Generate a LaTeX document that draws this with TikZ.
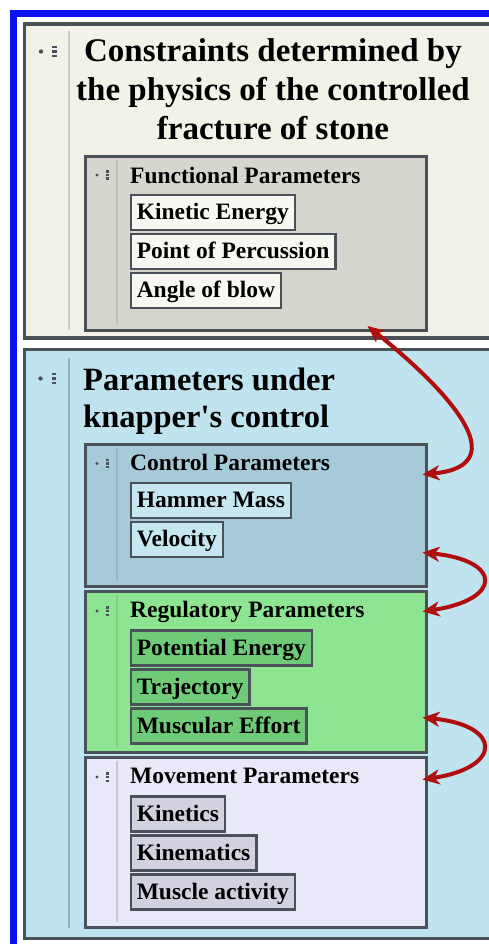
\documentclass[tikz,border=0pt]{standalone}
\usepackage{fontspec}
\setmainfont{Liberation Serif}
\usetikzlibrary{positioning,arrows.meta}

\definecolor{frameblue}{HTML}{0A12F2}
\definecolor{edgegray}{HTML}{4B5158}
\definecolor{paper}{HTML}{F2F2E8}
\definecolor{funcgray}{HTML}{D6D6CF}
\definecolor{itempaper}{HTML}{F8F8F2}
\definecolor{skyblue}{HTML}{BFE3EF}
\definecolor{ctrlblue}{HTML}{A7CAD9}
\definecolor{ctrlitem}{HTML}{C6E6F2}
\definecolor{regulgreen}{HTML}{8DE592}
\definecolor{regulitem}{HTML}{6FCB78}
\definecolor{movelilac}{HTML}{E8E8F8}
\definecolor{moveitem}{HTML}{D1D1DF}
\definecolor{arrowred}{HTML}{B00D0D}

% outline handle: dot + three bars
\newcommand{\outlinemark}[3]{%
  \begin{scope}[shift={(#1,#2)}, scale=#3]
    \fill[edgegray] (0,0) circle (2.2);
    \foreach \k in {-4.5,0,4.5}
      \fill[edgegray] (11,\k-1.3) rectangle ++(4.5,2.6);
  \end{scope}}

\begin{document}
\begin{tikzpicture}[x=1pt, y=-1pt,
    panel/.style={draw=edgegray, line width=3.5pt, anchor=north west, inner sep=0pt, minimum width=480pt},
    group/.style={draw=edgegray, line width=3pt, anchor=north west, inner sep=0pt, minimum width=340.5pt},
    head/.style={anchor=base west, inner sep=0pt, font=\fontsize{23.5}{28}\selectfont\bfseries},
    item/.style={draw=edgegray, line width=2.5pt, anchor=north west, inner xsep=6pt, inner ysep=0pt,
      minimum height=35pt, text height=16pt, text depth=1pt, font=\fontsize{23.5}{28}\selectfont\bfseries},
    guide/.style={line width=1.5pt},
    link/.style={arrowred, line width=4pt, {Stealth[length=17pt,width=15pt,inset=5pt]}-{Stealth[length=17pt,width=15pt,inset=5pt]}}
  ]
  \useasboundingbox (0,0) rectangle (489,944);
  \fill[white] (0,0) rectangle (489,944);

  % blue frame (left and top)
  \fill[frameblue] (10,10) rectangle (17,944);
  \fill[frameblue] (10,10) rectangle (489,17);

  % physics panel
  \node[panel, fill=paper, minimum height=313.5pt] (phys) at (22.5,22.5) {};
  \draw[guide, black!20] (69,31) -- (69,330);
  \outlinemark{41}{51.5}{1}
  \node[align=center, anchor=base, inner sep=0pt, font=\fontsize{33}{38.75}\selectfont\bfseries] (physttl) at (273,139.5)
    {Constraints determined by\\the physics of the controlled\\fracture of stone};

  % functional parameters
  \node[group, fill=funcgray, minimum height=174pt] (func) at (84,155) {};
  \draw[guide, black!25] ([xshift=33pt,yshift=-5pt]func.north west) -- ([xshift=33pt,yshift=7pt]func.south west);
  \outlinemark{97}{175}{0.78}
  \node[head] (funchd) at ([xshift=46pt,yshift=-28pt]func.north west) {Functional Parameters};
  \node[item, fill=itempaper] (kinen) at ([xshift=45.5pt,yshift=-38.5pt]func.north west) {Kinetic Energy};
  \node[item, fill=itempaper, below right=1.5pt and 0pt of kinen.south west] (percus) {Point of Percussion};
  \node[item, fill=itempaper, below right=1.5pt and 0pt of percus.south west] (angle) {Angle of blow};

  % knapper panel
  \node[panel, fill=skyblue, minimum height=589pt] (knap) at (22.5,347.5) {};
  \draw[guide, black!18!skyblue!80!gray] (69,358) -- (69,928);
  \outlinemark{40.5}{378.5}{1}
  \node[align=left, anchor=base west, inner sep=0pt, font=\fontsize{32.5}{37.5}\selectfont\bfseries] (knapttl) at (83,427.5)
    {Parameters under\\knapper\textquotesingle s control};

  % control parameters
  \node[group, fill=ctrlblue, minimum height=142pt] (ctrl) at (84,442.5) {};
  \draw[guide, ctrlblue!70!gray] ([xshift=33pt,yshift=-5pt]ctrl.north west) -- ([xshift=33pt,yshift=7pt]ctrl.south west);
  \outlinemark{97}{463.5}{0.78}
  \node[head] (ctrlhd) at ([xshift=46pt,yshift=-27.5pt]ctrl.north west) {Control Parameters};
  \node[item, fill=ctrlitem] (hammer) at ([xshift=45.5pt,yshift=-39pt]ctrl.north west) {Hammer Mass};
  \node[item, fill=ctrlitem, below right=1.5pt and 0pt of hammer.south west] (veloc) {Velocity};

  % regulatory parameters
  \node[group, fill=regulgreen, minimum height=161pt] (regul) at (84,589.5) {};
  \draw[guide, regulgreen!70!gray] ([xshift=33pt,yshift=-5pt]regul.north west) -- ([xshift=33pt,yshift=7pt]regul.south west);
  \outlinemark{97}{611}{0.78}
  \node[head] (regulhd) at ([xshift=46pt,yshift=-27.5pt]regul.north west) {Regulatory Parameters};
  \node[item, fill=regulitem] (potent) at ([xshift=45.5pt,yshift=-39.5pt]regul.north west) {Potential Energy};
  \node[item, fill=regulitem, below right=1.5pt and 0pt of potent.south west] (traj) {Trajectory};
  \node[item, fill=regulitem, below right=1.5pt and 0pt of traj.south west] (effort) {Muscular Effort};

  % movement parameters
  \node[group, fill=movelilac, minimum height=170pt] (move) at (84,755.5) {};
  \draw[guide, movelilac!70!gray] ([xshift=33pt,yshift=-5pt]move.north west) -- ([xshift=33pt,yshift=7pt]move.south west);
  \outlinemark{97}{777}{0.78}
  \node[head] (movehd) at ([xshift=46pt,yshift=-27.5pt]move.north west) {Movement Parameters};
  \node[item, fill=moveitem] (kinet) at ([xshift=45.5pt,yshift=-39.5pt]move.north west) {Kinetics};
  \node[item, fill=moveitem, below right=1.5pt and 0pt of kinet.south west] (kinem) {Kinematics};
  \node[item, fill=moveitem, below right=1.5pt and 0pt of kinem.south west] (muscle) {Muscle activity};

  % red links
  \draw[link] ([xshift=-60pt,yshift=6pt]func.south east) .. controls +(80,64) and +(95,-9) .. ([xshift=-5pt,yshift=-32pt]ctrl.north east);
  \draw[link] ([xshift=-5pt,yshift=35pt]ctrl.south east) .. controls +(80,8) and +(80,-12) .. ([xshift=-5pt,yshift=-22pt]regul.north east);
  \draw[link] ([xshift=-5pt,yshift=36pt]regul.south east) .. controls +(80,8) and +(80,-12) .. ([xshift=-5pt,yshift=-24pt]move.north east);
\end{tikzpicture}
\end{document}
